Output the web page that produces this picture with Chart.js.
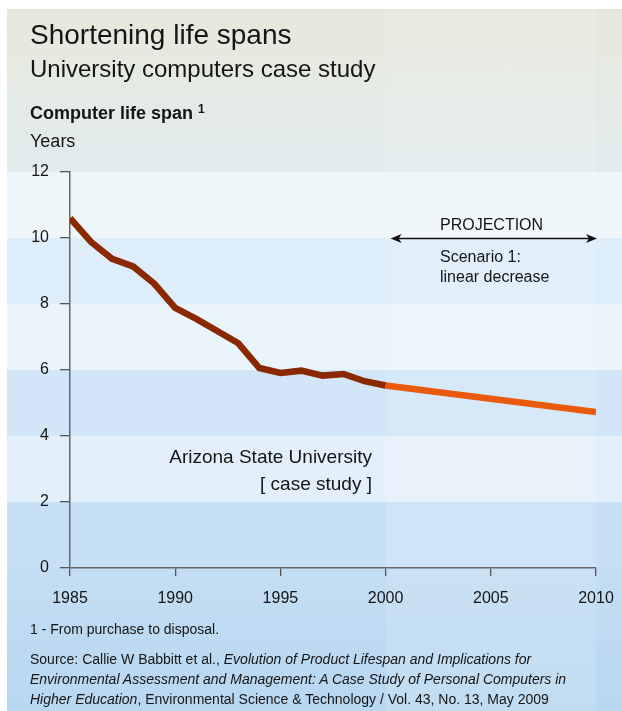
<!DOCTYPE html>
<html>
<head>
<meta charset="utf-8">
<script src="https://cdn.jsdelivr.net/npm/chart.js@4.4.1/dist/chart.umd.min.js"></script>
<style>
  body { margin: 0; background: #fff; font-family: "Liberation Sans", Arial, sans-serif; color: #151515; }
  #wrap { position: relative; width: 622px; height: 711px; overflow: hidden; }
  #panel { position: absolute; left: 7px; top: 9px; width: 615px; height: 702px;
    background: linear-gradient(to bottom, #e7e8da 0%, #e2ecee 23%, #c3ddf3 80%, #b8d7f1 100%); }
  #chart { position: absolute; left: 0; top: 0; }
  .t { position: absolute; line-height: 1; white-space: nowrap; }
</style>
</head>
<body>
<div id="wrap">
  <div id="panel"></div>
  <canvas id="chart" width="622" height="711"></canvas>
  <div class="t" style="left:30px; top:21px; font-size:28px;">Shortening life spans</div>
  <div class="t" style="left:30px; top:57px; font-size:24px;">University computers case study</div>
  <div class="t" style="left:30px; top:104px; font-size:18px; font-weight:bold;">Computer life span <span style="font-size:12px; position:relative; top:-6px;">1</span></div>
  <div class="t" style="left:30px; top:132px; font-size:18px;">Years</div>
  <div class="t" style="left:440px; top:217px; font-size:16px;">PROJECTION</div>
  <div class="t" style="left:440px; top:249px; font-size:16px;">Scenario 1:</div>
  <div class="t" style="left:440px; top:269px; font-size:16px;">linear decrease</div>
  <div class="t" style="right:250px; top:447px; font-size:19px;">Arizona State University</div>
  <div class="t" style="right:250px; top:474px; font-size:19px;">[ case study ]</div>
  <div class="t" style="left:30px; top:622px; font-size:14px;">1 - From purchase to disposal.</div>
  <div class="t" style="left:30px; top:649px; font-size:14px; line-height:20px;">Source: Callie W Babbitt et al., <i>Evolution of Product Lifespan and Implications for</i><br><i>Environmental Assessment and Management: A Case Study of Personal Computers in</i><br><i>Higher Education</i>, Environmental Science &amp; Technology / Vol. 43, No. 13, May 2009</div>
</div>
<script>
// measured life span (years), Arizona State University
const years = [1985, 1986, 1987, 1988, 1989, 1990, 1991, 1992, 1993, 1994, 1995, 1996, 1997, 1998, 1999, 2000];
const lifeSpan = [10.6, 9.88, 9.37, 9.14, 8.62, 7.88, 7.55, 7.18, 6.81, 6.06, 5.91, 5.98, 5.83, 5.88, 5.66, 5.53];
// projection, scenario 1: linear decrease
const projYears = [2000, 2010];
const projSpan = [5.53, 4.73];

const xTicks = [1985, 1990, 1995, 2000, 2005, 2010];
const yTicks = [0, 2, 4, 6, 8, 10, 12];

// background bands, top (12-10) to bottom (2-0)
const bandColors = ['#eef6fa', '#ddedfa', '#eaf4fb', '#d2e6f7', '#e3effa', '#c8e0f5'];

const bgPlugin = {
  id: 'bg',
  beforeDraw(chart) {
    const ctx = chart.ctx;
    const x = chart.scales.x, y = chart.scales.y;
    ctx.save();
    for (let i = 0; i < bandColors.length; i++) {
      const top = y.getPixelForValue(yTicks[yTicks.length - 1 - i]);
      const bot = y.getPixelForValue(yTicks[yTicks.length - 2 - i]);
      ctx.fillStyle = bandColors[i];
      ctx.fillRect(7, top, 615, bot - top);
    }
    // lighter column for the projection period
    const x0 = x.getPixelForValue(projYears[0]);
    const x1 = x.getPixelForValue(projYears[1]);
    ctx.fillStyle = 'rgba(255,255,255,0.13)';
    ctx.fillRect(x0, 9, x1 - x0, 702);
    ctx.restore();
  },
  afterDatasetsDraw(chart) {
    const ctx = chart.ctx;
    const x = chart.scales.x, y = chart.scales.y;
    const ay = Math.round(y.getPixelForValue(10)) + 0.5;
    const ax0 = x.getPixelForValue(projYears[0]) + 5;
    const ax1 = x.getPixelForValue(projYears[1]) + 1;
    ctx.save();
    ctx.strokeStyle = '#111';
    ctx.fillStyle = '#111';
    ctx.lineWidth = 1.3;
    ctx.beginPath();
    ctx.moveTo(ax0 + 4, ay);
    ctx.lineTo(ax1 - 4, ay);
    ctx.stroke();
    ctx.beginPath();
    ctx.moveTo(ax0, ay); ctx.lineTo(ax0 + 11, ay - 4.5); ctx.lineTo(ax0 + 8, ay); ctx.lineTo(ax0 + 11, ay + 4.5);
    ctx.closePath(); ctx.fill();
    ctx.beginPath();
    ctx.moveTo(ax1, ay); ctx.lineTo(ax1 - 11, ay - 4.5); ctx.lineTo(ax1 - 8, ay); ctx.lineTo(ax1 - 11, ay + 4.5);
    ctx.closePath(); ctx.fill();
    ctx.restore();
  }
};

const ctx = document.getElementById('chart').getContext('2d');
const chart = new Chart(ctx, {
  type: 'line',
  data: {
    datasets: [{
      data: years.map((yr, i) => ({ x: yr, y: lifeSpan[i] })),
      borderColor: '#8a2800',
      borderWidth: 6.5,
      pointRadius: 0,
      tension: 0
    }, {
      data: projYears.map((yr, i) => ({ x: yr, y: projSpan[i] })),
      borderColor: '#ea5a0c',
      borderWidth: 6.5,
      pointRadius: 0,
      tension: 0
    }]
  },
  options: {
    responsive: false,
    animation: false,
    layout: { padding: { top: 172, right: 26, left: 0, bottom: 0 } },
    plugins: { legend: { display: false }, tooltip: { enabled: false } },
    scales: {
      x: {
        type: 'linear',
        min: 1985,
        max: 2010,
        afterFit(scale) { scale.height = 143; scale.paddingLeft = 0; scale.paddingRight = 0; },
        afterBuildTicks(scale) { scale.ticks = xTicks.map(v => ({ value: v })); },
        ticks: {
          padding: 13,
          maxRotation: 0,
          color: '#151515',
          font: { family: 'Liberation Sans', size: 16 },
          callback: v => String(v)
        },
        grid: { drawOnChartArea: false, drawTicks: true, tickLength: 8, color: '#555', lineWidth: 1.3 },
        border: { color: '#666', width: 1.5 }
      },
      y: {
        min: 0,
        max: 12,
        afterFit(scale) { scale.width = 70; scale.paddingTop = 0; scale.paddingBottom = 0; },
        afterBuildTicks(scale) { scale.ticks = yTicks.map(v => ({ value: v })); },
        ticks: {
          padding: 11,
          color: '#151515',
          font: { family: 'Liberation Sans', size: 16 },
          callback: v => String(v)
        },
        grid: { drawOnChartArea: false, drawTicks: true, tickLength: 10, color: '#555', lineWidth: 1.3 },
        border: { color: '#666', width: 1.5 }
      }
    }
  },
  plugins: [bgPlugin]
});
</script>
</body>
</html>
